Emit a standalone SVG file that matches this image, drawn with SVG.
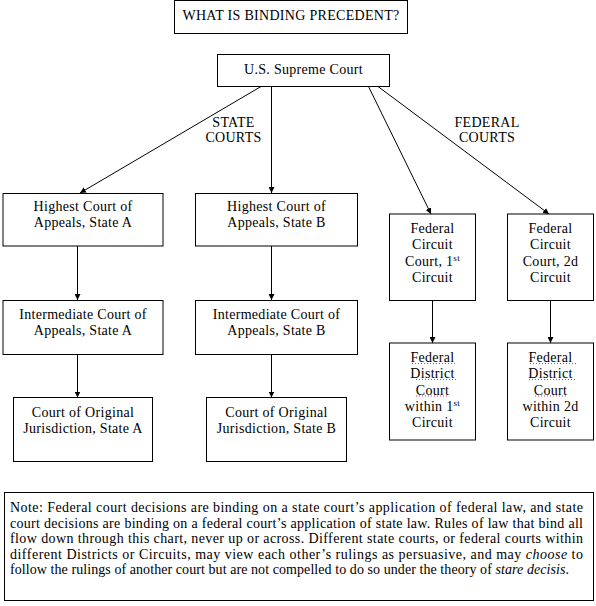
<svg xmlns="http://www.w3.org/2000/svg" width="596" height="606" viewBox="0 0 596 606">
<style>
  .box { fill: #ffffff; stroke: #000000; stroke-width: 1; }
  .t { font-family: "Liberation Serif", "Times New Roman", serif; font-size: 14px; letter-spacing: 0.3px; fill: #000000; text-anchor: middle; }
  .n { font-family: "Liberation Serif", "Times New Roman", serif; font-size: 14px; fill: #000000; }
  .sup { font-size: 9px; }
  .conn { stroke: #000000; stroke-width: 1; fill: none; marker-end: url(#arrow); }
  .spell { stroke: #c030c0; stroke-width: 1; stroke-dasharray: 1 2; fill: none; }
</style>
<defs>
  <marker id="arrow" viewBox="0 0 10 10" refX="10" refY="5" markerWidth="6" markerHeight="6" markerUnits="userSpaceOnUse" orient="auto">
    <path d="M0,0 L10,5 L0,10 Z" fill="#000000"/>
  </marker>
</defs>
<rect x="0" y="0" width="596" height="606" fill="#ffffff"/>

<g id="title">
  <rect class="box" x="174.5" y="0.5" width="233" height="33"/>
  <text class="t" x="291" y="19.5">WHAT IS BINDING PRECEDENT?</text>
</g>

<g id="supreme">
  <rect class="box" x="217.5" y="54.5" width="172" height="32"/>
  <text class="t" x="303.5" y="74">U.S. Supreme Court</text>
</g>

<g id="label-state">
  <text class="t" x="233.5" y="127">STATE</text>
  <text class="t" x="233.5" y="142">COURTS</text>
</g>
<g id="label-federal">
  <text class="t" x="487" y="127">FEDERAL</text>
  <text class="t" x="487" y="142">COURTS</text>
</g>

<g id="connectors">
  <line class="conn" x1="261" y1="86.5" x2="80" y2="193"/>
  <line class="conn" x1="271.5" y1="86.5" x2="271.5" y2="193"/>
  <line class="conn" x1="368.5" y1="86.5" x2="431" y2="214"/>
  <line class="conn" x1="378" y1="86.5" x2="549" y2="214"/>
  <line class="conn" x1="77.5" y1="246" x2="77.5" y2="300"/>
  <line class="conn" x1="77.5" y1="354.5" x2="77.5" y2="397.5"/>
  <line class="conn" x1="271.5" y1="246" x2="271.5" y2="300"/>
  <line class="conn" x1="271.5" y1="354.5" x2="271.5" y2="397.5"/>
  <line class="conn" x1="432.5" y1="300.5" x2="432.5" y2="343"/>
  <line class="conn" x1="550.5" y1="300.5" x2="550.5" y2="343"/>
</g>

<g id="highest-a">
  <rect class="box" x="3" y="193.5" width="160" height="52.5"/>
  <text class="t" x="83" y="210.5">Highest Court of</text>
  <text class="t" x="83" y="226.5">Appeals, State A</text>
</g>
<g id="highest-b">
  <rect class="box" x="195.5" y="193.5" width="162" height="52.5"/>
  <text class="t" x="276.5" y="210.5">Highest Court of</text>
  <text class="t" x="276.5" y="226.5">Appeals, State B</text>
</g>
<g id="intermediate-a">
  <rect class="box" x="3" y="300.5" width="160" height="54"/>
  <text class="t" x="83" y="319">Intermediate Court of</text>
  <text class="t" x="83" y="335">Appeals, State A</text>
</g>
<g id="intermediate-b">
  <rect class="box" x="195.5" y="300.5" width="162" height="54"/>
  <text class="t" x="276.5" y="319">Intermediate Court of</text>
  <text class="t" x="276.5" y="335">Appeals, State B</text>
</g>
<g id="original-a">
  <rect class="box" x="13.5" y="397.5" width="139" height="64"/>
  <text class="t" x="83" y="416.5">Court of Original</text>
  <text class="t" x="83" y="432.5">Jurisdiction, State A</text>
</g>
<g id="original-b">
  <rect class="box" x="206.5" y="397.5" width="140" height="64"/>
  <text class="t" x="276.5" y="416.5">Court of Original</text>
  <text class="t" x="276.5" y="432.5">Jurisdiction, State B</text>
</g>

<g id="circuit-1">
  <rect class="box" x="389.5" y="214" width="86" height="86.5"/>
  <text class="t" x="432.5" y="233">Federal</text>
  <text class="t" x="432.5" y="249">Circuit</text>
  <text class="t" x="432.5" y="265.5">Court, 1<tspan class="sup" dy="-5">st</tspan></text>
  <text class="t" x="432.5" y="282">Circuit</text>
</g>
<g id="circuit-2">
  <rect class="box" x="507.5" y="214" width="86" height="86.5"/>
  <text class="t" x="550.5" y="233">Federal</text>
  <text class="t" x="550.5" y="249">Circuit</text>
  <text class="t" x="550.5" y="265.5">Court, 2d</text>
  <text class="t" x="550.5" y="282">Circuit</text>
</g>
<g id="district-1">
  <rect class="box" x="389.5" y="343" width="86" height="97"/>
  <text class="t" x="432.5" y="362">Federal</text>
  <text class="t" x="432.5" y="378">District</text>
  <text class="t" x="432.5" y="394.5">Court</text>
  <text class="t" x="432.5" y="410.5">within 1<tspan class="sup" dy="-5">st</tspan></text>
  <text class="t" x="432.5" y="426.5">Circuit</text>
  <line class="spell" x1="412" y1="363.5" x2="457" y2="363.5"/>
  <line class="spell" x1="416" y1="379.5" x2="457" y2="379.5"/>
  <line class="spell" x1="416" y1="396" x2="448" y2="396"/>
</g>
<g id="district-2">
  <rect class="box" x="507.5" y="343" width="86" height="97"/>
  <text class="t" x="550.5" y="362">Federal</text>
  <text class="t" x="550.5" y="378">District</text>
  <text class="t" x="550.5" y="394.5">Court</text>
  <text class="t" x="550.5" y="410.5">within 2d</text>
  <text class="t" x="550.5" y="426.5">Circuit</text>
  <line class="spell" x1="530" y1="363.5" x2="576" y2="363.5"/>
  <line class="spell" x1="529" y1="379.5" x2="575" y2="379.5"/>
  <line class="spell" x1="535" y1="396" x2="568" y2="396"/>
</g>

<g id="note">
  <rect class="box" x="4.5" y="492.5" width="589" height="108"/>
  <text class="n" x="10" y="512" textLength="573" lengthAdjust="spacing">Note: Federal court decisions are binding on a state court’s application of federal law, and state</text>
  <text class="n" x="10" y="527.5" textLength="573" lengthAdjust="spacing">court decisions are binding on a federal court’s application of state law.  Rules of law that bind all</text>
  <text class="n" x="10" y="543" textLength="573" lengthAdjust="spacing">flow down through this chart, never up or across.  Different state courts, or federal courts within</text>
  <text class="n" x="10" y="558.5" textLength="573" lengthAdjust="spacing">different Districts or Circuits, may view each other’s rulings as persuasive, and may <tspan font-style="italic">choose</tspan> to</text>
  <text class="n" x="10" y="574" textLength="559" lengthAdjust="spacing">follow the rulings of another court but are not compelled to do so under the theory of <tspan font-style="italic">stare decisis</tspan>.</text>
</g>
</svg>
